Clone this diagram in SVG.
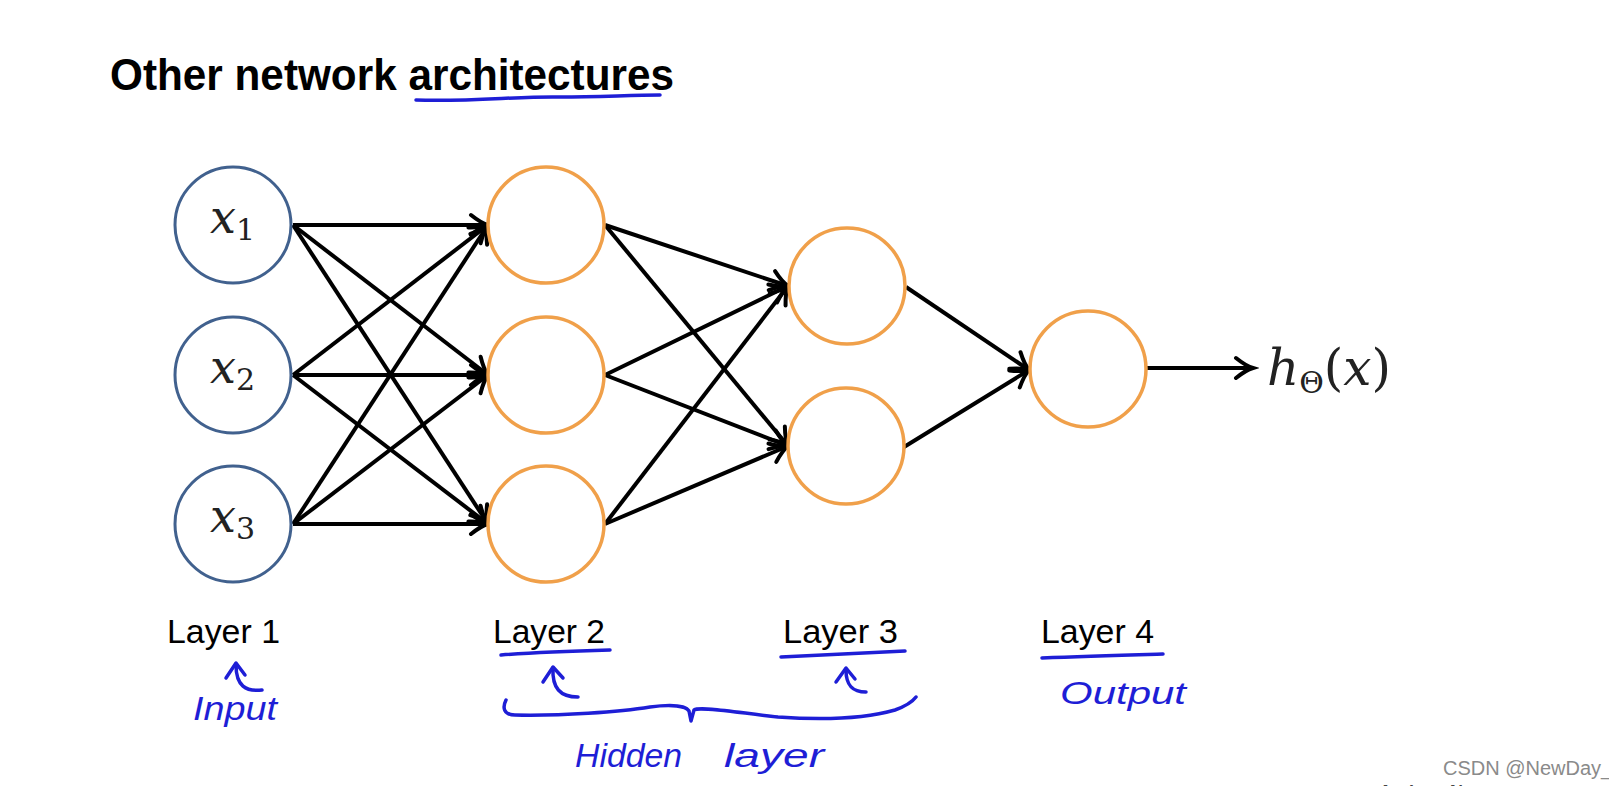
<svg xmlns="http://www.w3.org/2000/svg" width="1609" height="786" viewBox="0 0 1609 786">
<defs>
<style>
.in{fill:#fff;stroke:#41618e;stroke-width:3}
.hid{fill:#fff;stroke:#f0a04a;stroke-width:3.5}
.e{stroke:#000;stroke-width:4;fill:none;marker-end:url(#ah)}
.lbl{font-family:"Liberation Sans",Arial,sans-serif;font-size:34px;fill:#000}
.math{font-family:"DejaVu Serif","Liberation Serif",serif;fill:#222}
.hw{font-family:"Liberation Sans",Arial,sans-serif;font-style:italic;fill:#1e1ed6}
.pen{stroke:#1e1ed6;stroke-width:3.5;fill:none;stroke-linecap:round;stroke-linejoin:round}
</style>
<marker id="ah" markerUnits="userSpaceOnUse" markerWidth="26" markerHeight="26" viewBox="-20 -13 26 26" refX="0" refY="0" orient="auto">
<path d="M-17,-10 Q-7,-2 0,0 Q-7,2 -17,10" stroke="#000" stroke-width="4" fill="none" stroke-linecap="round"/>
</marker>
</defs>
<rect width="1609" height="786" fill="#fff"/>

<g id="title">
<text x="110" y="90" font-family="'Liberation Sans',Arial,sans-serif" font-weight="bold" font-size="45" textLength="564" lengthAdjust="spacingAndGlyphs" fill="#000">Other network architectures</text>
<path class="pen" d="M416,100 C470,102 520,96 560,97 C600,97 630,95 660,95"/>
</g>

<g id="connectors">
<line class="e" x1="293" y1="225" x2="488" y2="225"/>
<line class="e" x1="293" y1="225" x2="488" y2="375"/>
<line class="e" x1="293" y1="225" x2="488" y2="524"/>
<line class="e" x1="293" y1="375" x2="488" y2="225"/>
<line class="e" x1="293" y1="375" x2="488" y2="375"/>
<line class="e" x1="293" y1="375" x2="488" y2="524"/>
<line class="e" x1="293" y1="524" x2="488" y2="225"/>
<line class="e" x1="293" y1="524" x2="488" y2="375"/>
<line class="e" x1="293" y1="524" x2="488" y2="524"/>
<line class="e" x1="605" y1="225" x2="788" y2="286"/>
<line class="e" x1="605" y1="225" x2="788" y2="446"/>
<line class="e" x1="605" y1="375" x2="788" y2="286"/>
<line class="e" x1="605" y1="375" x2="788" y2="446"/>
<line class="e" x1="605" y1="524" x2="788" y2="286"/>
<line class="e" x1="605" y1="524" x2="788" y2="446"/>
<line class="e" x1="906" y1="287" x2="1029" y2="370"/>
<line class="e" x1="904" y1="447" x2="1029" y2="370"/>
<line class="e" x1="1147" y1="368" x2="1253" y2="368"/>
</g>

<g id="x1"><circle class="in" cx="233" cy="225" r="58"/>
<text class="math" x="210" y="233" font-size="46" font-style="italic">x<tspan font-style="normal" font-size="30" dy="7">1</tspan></text></g>
<g id="x2"><circle class="in" cx="233" cy="375" r="58"/>
<text class="math" x="210" y="383" font-size="46" font-style="italic">x<tspan font-style="normal" font-size="30" dy="7">2</tspan></text></g>
<g id="x3"><circle class="in" cx="233" cy="524" r="58"/>
<text class="math" x="210" y="532" font-size="46" font-style="italic">x<tspan font-style="normal" font-size="30" dy="7">3</tspan></text></g>

<g id="a21"><circle class="hid" cx="546" cy="225" r="58"/></g>
<g id="a22"><circle class="hid" cx="546" cy="375" r="58"/></g>
<g id="a23"><circle class="hid" cx="546" cy="524" r="58"/></g>
<g id="a31"><circle class="hid" cx="847" cy="286" r="58"/></g>
<g id="a32"><circle class="hid" cx="846" cy="446" r="58"/></g>
<g id="a41"><circle class="hid" cx="1088" cy="369" r="58"/></g>

<g id="output">
<text class="math" x="1267" y="385" font-size="50" font-style="italic" fill="#222">h<tspan font-style="normal" font-size="30" dy="8">Θ</tspan><tspan font-style="normal" dy="-8">(</tspan>x<tspan font-style="normal">)</tspan></text>
</g>

<g id="layer1">
<text class="lbl" x="167" y="643" textLength="113" lengthAdjust="spacingAndGlyphs">Layer 1</text>
<path class="pen" d="M262,690 C246,692 236,686 236,665"/>
<path class="pen" d="M226,678 L236,663 L245,675"/>
<text class="hw" x="193" y="720" font-size="34" textLength="84" lengthAdjust="spacingAndGlyphs">Input</text>
</g>

<g id="layer2">
<text class="lbl" x="493" y="643" textLength="112" lengthAdjust="spacingAndGlyphs">Layer 2</text>
<path class="pen" d="M501,655 C540,652 575,651 610,650"/>
<path class="pen" d="M578,697 C560,697 552,688 553,668"/>
<path class="pen" d="M543,682 L553,667 L563,678"/>
</g>

<g id="layer3">
<text class="lbl" x="783" y="643" textLength="115" lengthAdjust="spacingAndGlyphs">Layer 3</text>
<path class="pen" d="M781,657 C830,655 870,653 905,651"/>
<path class="pen" d="M866,692 C852,692 846,685 846,670"/>
<path class="pen" d="M836,682 L846,668 L855,679"/>
</g>

<g id="layer4">
<text class="lbl" x="1041" y="643" textLength="113" lengthAdjust="spacingAndGlyphs">Layer 4</text>
<path class="pen" d="M1042,658 C1085,656 1125,655 1163,654"/>
<text class="hw" x="1060" y="704" font-size="32" textLength="126" lengthAdjust="spacingAndGlyphs">Output</text>
</g>

<g id="hidden">
<path class="pen" d="M506,700 C502,708 504,715 515,715 C560,716 620,712 650,707 C672,704 686,706 689,711 L691,721 L694,710 C700,706 740,713 778,717 C820,720 860,720 895,710 C906,706 913,701 916,697"/>
<text class="hw" x="575" y="767" font-size="34" textLength="107" lengthAdjust="spacingAndGlyphs">Hidden</text>
<text class="hw" x="724" y="767" font-size="34" textLength="100" lengthAdjust="spacingAndGlyphs">layer</text>
</g>

<g id="watermark">
<text x="1443" y="775" font-family="'Liberation Sans',Arial,sans-serif" font-size="20" fill="#8a8a8a">CSDN @NewDay_</text>
<text x="1379" y="798" font-family="'Liberation Sans',Arial,sans-serif" font-size="18" font-weight="bold" fill="#444">Andrew Ng</text>
</g>
</svg>
